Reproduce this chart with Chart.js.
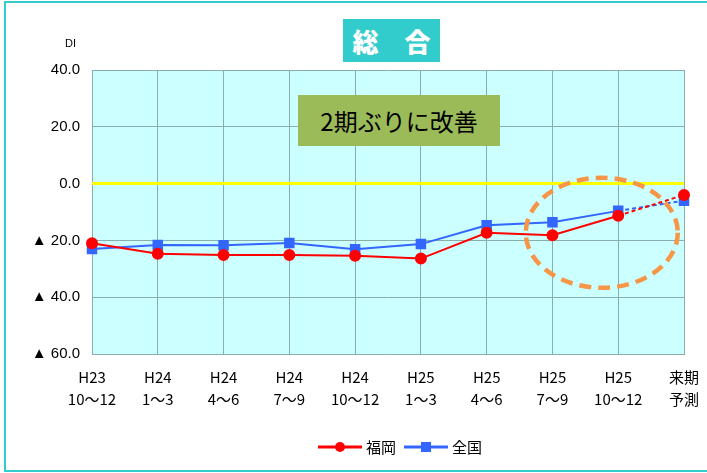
<!DOCTYPE html>
<html>
<head>
<meta charset="utf-8">
<script src="https://cdn.jsdelivr.net/npm/chart.js@4.4.0/dist/chart.umd.min.js"></script>
<style>
  body { margin: 0; background: #fff; }
  #wrap { position: relative; width: 707px; height: 473px; }
  #frame { position: absolute; left: 4px; top: 1px; right: 0; bottom: 1px; border: 2px solid #33CCCC; border-right: none; }
  #title { position: absolute; left: 343px; top: 19px; width: 97px; height: 43px; background: #33CCCC; color: #fff;
           font: 900 26px "Noto Sans CJK JP"; text-align: center; line-height: 43px; }
  #note { position: absolute; left: 298px; top: 95px; width: 202px; height: 51px; background: #9BBB59; color: #000;
          font: 24px "Noto Sans CJK JP"; text-align: center; line-height: 51px; }
  #di { position: absolute; left: 65px; top: 37px; font: 11px "Liberation Sans"; color: #000; }
  canvas { position: absolute; left: 0; top: 0; }
</style>
</head>
<body>
<div id="wrap">
  <canvas id="chart" width="707" height="473"></canvas>
  <div id="frame"></div>
  <div id="title">総　合</div>
  <div id="note">2期ぶりに改善</div>
  <div id="di">DI</div>
</div>
<script>
const categories = [
    ['H23', '10～12'], ['H24', '1～3'], ['H24', '4～6'], ['H24', '7～9'], ['H24', '10～12'],
    ['H25', '1～3'], ['H25', '4～6'], ['H25', '7～9'], ['H25', '10～12'], ['来期', '予測']
];
const fukuokaValues = [-21.0, -24.7, -25.1, -25.1, -25.4, -26.4, -17.3, -18.2, -11.3, -4.0];
const zenkokuValues = [-23.0, -21.6, -21.7, -20.9, -23.1, -21.3, -14.7, -13.6, -9.6, -6.0];
const seriesNames = ['福岡', '全国'];
const yTicks = [40, 20, 0, -20, -40, -60];

const lastIdx = categories.length - 1;
const dashForecast = ctx => ctx.p1DataIndex === lastIdx ? [4, 3] : undefined;

const plotDecor = {
    id: 'plotDecor',
    beforeDraw(chart) {
        const { ctx, chartArea: a } = chart;
        ctx.save();
        ctx.fillStyle = '#CCFFFF';
        ctx.fillRect(a.left, a.top, a.right - a.left, a.bottom - a.top);
        ctx.restore();
    },
    beforeDatasetsDraw(chart) {
        const { ctx, chartArea: a, scales } = chart;
        const y0 = scales.y.getPixelForValue(0);
        ctx.save();
        ctx.strokeStyle = '#FFFF00';
        ctx.lineWidth = 3;
        ctx.beginPath();
        ctx.moveTo(a.left, y0);
        ctx.lineTo(a.right, y0);
        ctx.stroke();
        ctx.restore();
    },
    afterDatasetsDraw(chart) {
        const { ctx, scales } = chart;
        // orange dashed ellipse around the latest quarters
        const cx = scales.x.getPixelForValue(7.75);
        const cy = scales.y.getPixelForValue(-17.3);
        ctx.save();
        ctx.strokeStyle = '#F79646';
        ctx.lineWidth = 4.5;
        ctx.setLineDash([12, 7]);
        ctx.beginPath();
        ctx.ellipse(cx, cy, 76, 55, 0, 0, Math.PI * 2);
        ctx.stroke();
        ctx.restore();

        // legend with line + marker
        const items = chart.data.datasets;
        let x = 318;
        const y = 447;
        ctx.save();
        ctx.font = '15px "Noto Sans CJK JP"';
        ctx.textBaseline = 'middle';
        items.forEach(ds => {
            ctx.strokeStyle = ds.borderColor;
            ctx.lineWidth = 3;
            ctx.beginPath();
            ctx.moveTo(x, y);
            ctx.lineTo(x + 44, y);
            ctx.stroke();
            ctx.fillStyle = ds.borderColor;
            if (ds.pointStyle === 'circle') {
                ctx.beginPath();
                ctx.arc(x + 22, y, 5, 0, Math.PI * 2);
                ctx.fill();
            } else {
                ctx.fillRect(x + 17, y - 5, 10, 10);
            }
            ctx.fillStyle = '#000';
            ctx.fillText(ds.label, x + 48, y);
            x += 48 + ctx.measureText(ds.label).width + 8;
        });
        ctx.restore();
    }
};

new Chart(document.getElementById('chart'), {
    type: 'line',
    data: {
        labels: categories,
        datasets: [{
            label: seriesNames[0],
            data: fukuokaValues,
            borderColor: '#FF0000',
            backgroundColor: '#FF0000',
            borderWidth: 2,
            pointStyle: 'circle',
            pointRadius: 5,
            pointHoverRadius: 5,
            segment: { borderDash: dashForecast }
        }, {
            label: seriesNames[1],
            data: zenkokuValues,
            borderColor: '#3366FF',
            backgroundColor: '#3366FF',
            borderWidth: 2,
            pointStyle: 'rect',
            pointRadius: 6,
            pointHoverRadius: 6,
            segment: { borderDash: dashForecast }
        }]
    },
    options: {
        responsive: false,
        animation: false,
        layout: { padding: { left: 0, right: 23, top: 70, bottom: 0 } },
        plugins: {
            legend: { display: false },
            tooltip: { enabled: false }
        },
        scales: {
            x: {
                offset: false,
                afterFit: s => { s.height = 119; s.paddingLeft = 0; s.paddingRight = 0; },
                grid: { color: '#8AAEAE', drawTicks: false },
                border: { color: '#8AAEAE' },
                ticks: {
                    color: '#000',
                    padding: 12,
                    maxRotation: 0,
                    autoSkip: false,
                    font: { family: '"Noto Sans CJK JP"', size: 15, lineHeight: 1.5 }
                }
            },
            y: {
                min: -60,
                max: 40,
                afterFit: s => { s.width = 92; },
                afterBuildTicks: s => { s.ticks = yTicks.map(v => ({ value: v })); },
                grid: { color: '#8AAEAE', drawTicks: false },
                border: { color: '#8AAEAE' },
                ticks: {
                    color: '#000',
                    padding: 12,
                    font: { family: '"Liberation Sans"', size: 15 },
                    callback: v => v < 0 ? '▲ ' + Math.abs(v).toFixed(1) : v.toFixed(1)
                }
            }
        }
    },
    plugins: [plotDecor]
});
</script>
</body>
</html>
